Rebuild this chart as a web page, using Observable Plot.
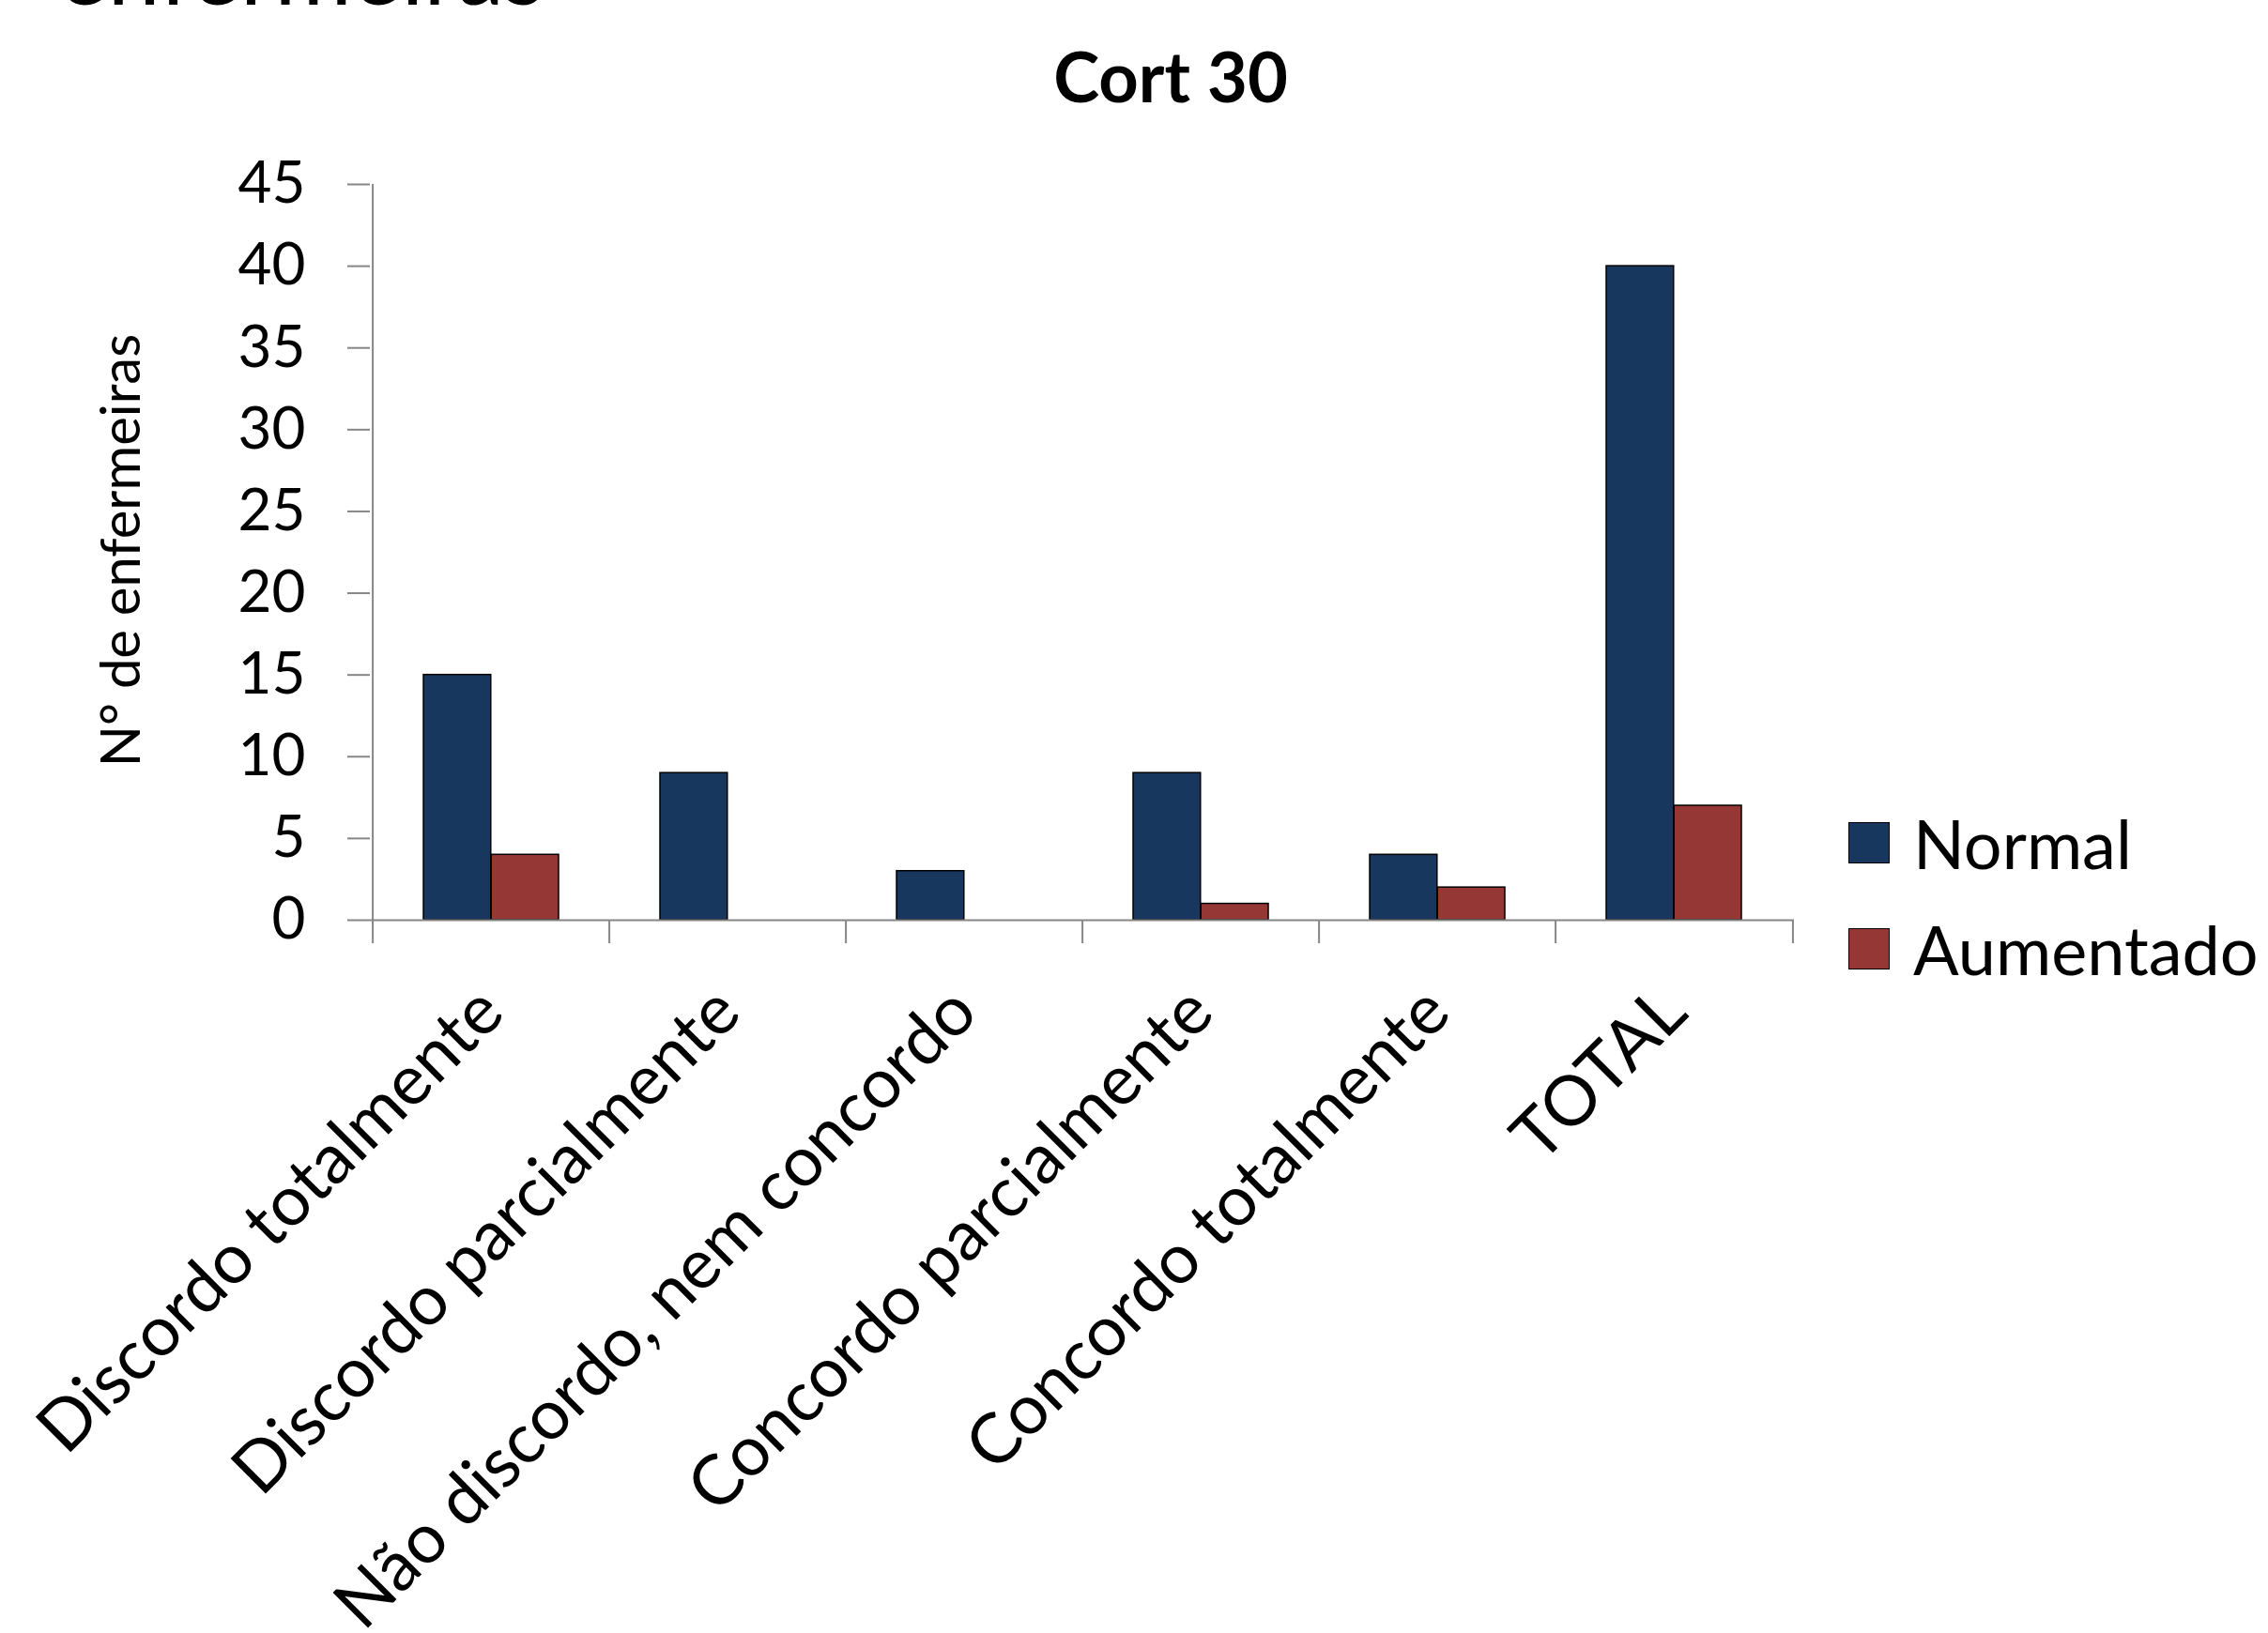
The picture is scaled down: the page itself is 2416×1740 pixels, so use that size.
<!DOCTYPE html>
<html>
<head>
<meta charset="utf-8">
<script src="https://cdn.jsdelivr.net/npm/d3@7"></script>
<script src="https://cdn.jsdelivr.net/npm/@observablehq/plot@0.6"></script>
<style>
  html, body { margin: 0; padding: 0; background: #fff; }
  #wrap { position: relative; width: 2416px; height: 1740px; overflow: hidden; font-family: Lato, sans-serif; color: #000; background: #fff; }
  #wrap svg { position: absolute; left: 0; top: 0; }
  .heading { position: absolute; left: 62px; top: -94px; font-size: 100px; line-height: 120px; white-space: nowrap; }
  .title { position: absolute; left: 0; width: 2494px; text-align: center; top: 37px; font-size: 74px; line-height: 88.8px; font-weight: 700; }
  .legend-item { position: absolute; left: 1969px; display: flex; align-items: center; white-space: nowrap; }
  .legend-item .sw { width: 42px; height: 42px; border: 1.5px solid #000; box-sizing: content-box; }
  .legend-item .lbl { font-size: 72px; line-height: 86.4px; margin-left: 25px; }
</style>
</head>
<body>
<div id="wrap"></div>
<script>
// ---- data ----
const categories = ["Discordo totalmente", "Discordo parcialmente", "Não discordo, nem concordo", "Concordo parcialmente", "Concordo totalmente", "TOTAL"];
const seriesNames = ["Normal", "Aumentado"];
const normalValues = [15, 9, 3, 9, 4, 40];
const aumentadoValues = [4, 0, 0, 1, 2, 7];
const seriesColors = ["#17375E", "#953735"];
const yTicks = [0, 5, 10, 15, 20, 25, 30, 35, 40, 45];
const yDomain = [0, 45];
const titleText = "Cort 30";
const yLabelText = "N° de enfermeiras";
const headingText = "enfermeiras";

// ---- layout ----
const W = 2416, H = 1740;
const mL = 394, mR = 505, mT = 196, mB = 760;
const padInner = 1.5 / 3.5, padOuter = 0.75 / 3.5;
const n = categories.length;
const step = (W - mL - mR) / (n - padInner + 2 * padOuter);
const half = step * (1 - padInner) / 2;
const axisGray = "#868686";

const rows = categories.flatMap((c, i) => [
  {cat: c, series: seriesNames[0], value: normalValues[i]},
  {cat: c, series: seriesNames[1], value: aumentadoValues[i]}
]);

const plot = Plot.plot({
  width: W, height: H,
  marginLeft: mL, marginRight: mR, marginTop: mT, marginBottom: mB,
  style: {fontFamily: "Lato, sans-serif", color: "#000", background: "transparent", overflow: "visible"},
  x: {domain: categories, paddingInner: padInner, paddingOuter: padOuter},
  y: {domain: yDomain},
  marks: [
    Plot.axisY({ticks: yTicks, tickSize: 24, tickPadding: 45, fontSize: 62, stroke: axisGray, strokeWidth: 2, label: null, tickFormat: d => d}),
    Plot.axisX({tickSize: 0, tickPadding: 85, tickRotate: -45, fontSize: 74, label: null}),
    Plot.ruleX([categories[0]], {x: d => d, dx: -step / 2, y1: yDomain[0], y2: yDomain[1], stroke: axisGray, strokeWidth: 2}),
    Plot.ruleX(categories, {x: d => d, dx: -step / 2, y1: 0, y2: 0, insetBottom: -25, stroke: axisGray, strokeWidth: 2}),
    Plot.ruleX([categories[n - 1]], {x: d => d, dx: step / 2, y1: 0, y2: 0, insetBottom: -25, stroke: axisGray, strokeWidth: 2}),
    Plot.barY(rows.filter(d => d.series === seriesNames[0] && d.value > 0), {x: "cat", y: "value", fill: seriesColors[0], stroke: "#000", strokeWidth: 1.5, insetRight: half}),
    Plot.barY(rows.filter(d => d.series === seriesNames[1] && d.value > 0), {x: "cat", y: "value", fill: seriesColors[1], stroke: "#000", strokeWidth: 1.5, insetLeft: half}),
    Plot.ruleY([0], {stroke: axisGray, strokeWidth: 2}),
    Plot.text([yLabelText], {frameAnchor: "left", text: d => d, textAnchor: "middle", rotate: -90, dx: -264, dy: -2, fontSize: 58})
  ]
});

const wrap = document.getElementById("wrap");
wrap.appendChild(plot);

const heading = document.createElement("div");
heading.className = "heading";
heading.textContent = headingText;
wrap.appendChild(heading);

const title = document.createElement("div");
title.className = "title";
title.textContent = titleText;
wrap.appendChild(title);

const legendTops = [855, 968];
seriesNames.forEach((s, i) => {
  const item = document.createElement("div");
  item.className = "legend-item";
  item.style.top = legendTops[i] + "px";
  const sw = document.createElement("div");
  sw.className = "sw";
  sw.style.background = seriesColors[i];
  const lbl = document.createElement("span");
  lbl.className = "lbl";
  lbl.textContent = s;
  item.appendChild(sw);
  item.appendChild(lbl);
  wrap.appendChild(item);
});
</script>
</body>
</html>
